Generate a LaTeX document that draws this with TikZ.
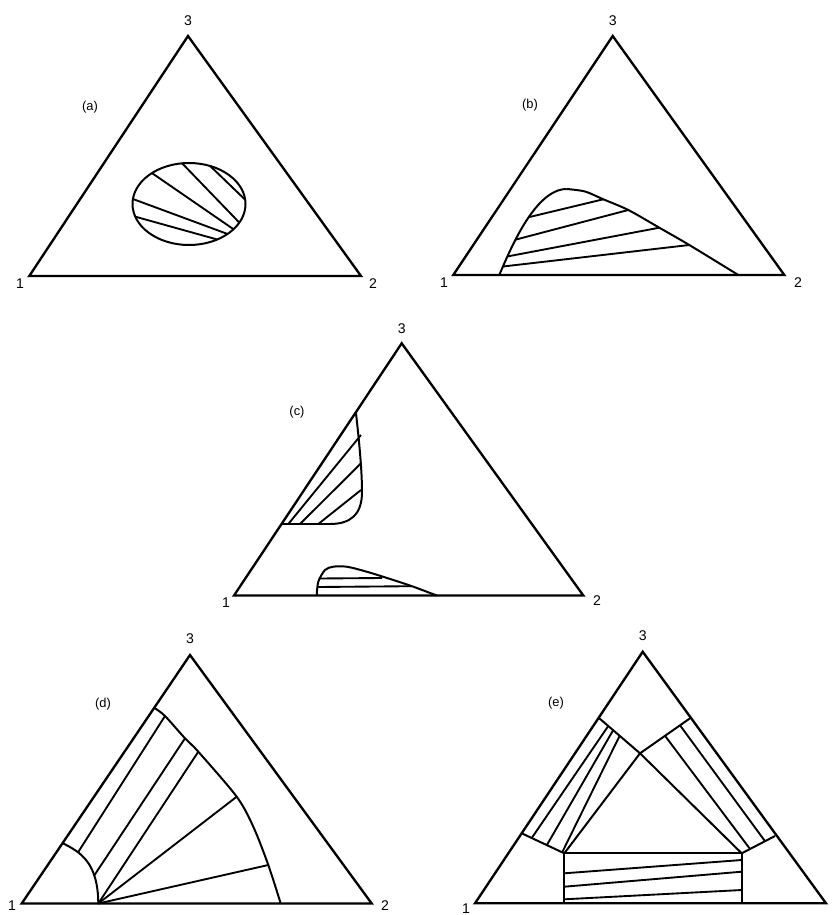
\documentclass[tikz,border=0pt]{standalone}
\usepackage{fontspec}
\setmainfont{Liberation Sans}
\usetikzlibrary{calc}

\begin{document}
\begin{tikzpicture}[
    x=0.3mm, y=-0.3mm,
    frame/.style = {line width=2pt},
    bound/.style = {line width=1.7pt},
    tie/.style   = {line width=1.6pt},
    vlbl/.style  = {font=\fontsize{12}{14}\selectfont, inner sep=0pt},
    plbl/.style  = {font=\fontsize{11}{13}\selectfont, inner sep=0pt}
  ]
  \fill[white] (0,0) rectangle (833,915);
  \useasboundingbox (0,0) rectangle (833,915);

  %% (a) closed gap in the middle
  \coordinate (a1) at (29.3,276);
  \coordinate (a2) at (361,276);
  \coordinate (a3) at (188,36);
  \coordinate (ca) at (189,204);
  \draw[frame] (a1) -- (a2) -- (a3) -- cycle;
  \node[vlbl] (a1l) at (20,284)  {1};
  \node[vlbl] (a2l) at (373,284) {2};
  \node[vlbl] (a3l) at (188,21)  {3};
  \node[plbl] (alab) at (90,107) {(a)};
  \draw[bound] (ca) ellipse [x radius=56.5, y radius=41];
  \foreach \p/\q in {-68/-6, -97/27, -131/38, -173/47, -198/60}
    \draw[tie] ($(ca)+(\p:56.5 and 41)$) -- ($(ca)+(\q:56.5 and 41)$);

  %% (b) gap touching side 1-2
  \coordinate (b1) at (453.3,275);
  \coordinate (b2) at (784.3,275);
  \coordinate (b3) at (612.7,36);
  \draw[frame] (b1) -- (b2) -- (b3) -- cycle;
  \node[vlbl] (b1l) at (444,283) {1};
  \node[vlbl] (b2l) at (798,283) {2};
  \node[vlbl] (b3l) at (612.7,21) {3};
  \node[plbl] (blab) at (530,105) {(b)};
  \coordinate (br1) at (689.3,245);
  \coordinate (br2) at (659.3,227.7);
  \coordinate (br3) at (628.3,210);
  \coordinate (br4) at (603.3,199.3);
  \draw[bound] (499.3,275) .. controls (510,250) and (535,189) ..
    coordinate[pos=0.1] (bl1) coordinate[pos=0.2] (bl2)
    coordinate[pos=0.35] (bl3) coordinate[pos=0.55] (bl4) (566.7,189);
  \draw[bound] plot[smooth] coordinates {(566.7,189) (585,191.5)
    (br4) (br3) (br2) (br1) (738.3,275)};
  \foreach \i in {1,...,4}
    \draw[tie] (bl\i) -- (br\i);

  %% (c) two separate gaps
  \coordinate (c1) at (234,595.5);
  \coordinate (c2) at (583.3,595.5);
  \coordinate (c3) at (401.7,343.3);
  \draw[frame] (c1) -- (c2) -- (c3) -- cycle;
  \node[vlbl] (c1l) at (226,603) {1};
  \node[vlbl] (c2l) at (597,601) {2};
  \node[vlbl] (c3l) at (401.7,329) {3};
  \node[plbl] (clab) at (297,411.7) {(c)};
  % upper gap on side 1-3
  \draw[bound] (356,413.3) .. controls (359,440) and (362,470) .. (362,492)
    .. controls (362,515) and (350,524) .. (330,524) -- (281.5,524);
  \foreach \p/\q in {288.3/435, 300/463.3, 318.3/490}
    \draw[tie] (\p,524) -- (361,\q);
  % lower gap on side 1-2
  \draw[bound] plot[smooth] coordinates {(316.7,595.5) (318.3,581.7) (325,570)
    (333.3,566.7) (346.7,566.7) (366.7,571.7) (393.3,580) (413.3,586.7) (436.7,595.5)};
  \draw[tie] (318.5,578.5) -- (382,578);
  \draw[tie] (318,587) -- (411,586.2);

  %% (d) fan of tie lines from one point
  \coordinate (d1) at (21.7,903.5);
  \coordinate (d2) at (371.7,903.5);
  \coordinate (d3) at (190,655);
  \draw[frame] (d1) -- (d2) -- (d3) -- cycle;
  \node[vlbl] (d1l) at (12,906)  {1};
  \node[vlbl] (d2l) at (385,906) {2};
  \node[vlbl] (d3l) at (190,638.3) {3};
  \node[plbl] (dlab) at (103,704) {(d)};
  \coordinate (df) at (98.3,903.5);
  \coordinate (du1) at (165,716);
  \coordinate (du2) at (185,738.3);
  \coordinate (du3) at (198.3,751.7);
  \coordinate (du4) at (236.7,796.7);
  \coordinate (du5) at (268.3,865);
  \draw[bound] plot[smooth] coordinates {(155,708.3) (du1) (du2) (du3) (du4)
    (253.3,826.7) (du5) (280.7,903.5)};
  \draw[bound] (63,843.3) .. controls (80,852) and (98,862) ..
    coordinate[pos=0.3] (ds1) coordinate[pos=0.72] (ds2) (98.3,903.5);
  \draw[tie] (ds1) -- (du1);
  \draw[tie] (ds2) -- (du2);
  \foreach \i in {3,4,5}
    \draw[tie] (df) -- (du\i);

  %% (e) three two-phase bands and a three-phase triangle
  \coordinate (e1) at (475,903.3);
  \coordinate (e2) at (826,903.3);
  \coordinate (e3) at (642.7,651.7);
  \draw[frame] (e1) -- (e2) -- (e3) -- cycle;
  \node[vlbl] (e1l) at (466,909) {1};
  \node[vlbl] (e3l) at (642.7,635.7) {3};
  \node[plbl] (elab) at (556,703) {(e)};
  \coordinate (eL1) at (599.3,718.3);
  \coordinate (eR1) at (690,718.3);
  \coordinate (eC)  at (640,753.3);
  \coordinate (eL2) at (521.7,833.3);
  \coordinate (eP)  at (564.3,853.3);
  \coordinate (eQ)  at (741.7,853.3);
  \coordinate (eR2) at (775,836);
  \draw[bound] (eL1) -- (eC) -- (eR1);
  \draw[bound] (eL2) -- (eP) -- (eC) -- (eQ) -- (eR2);
  \draw[bound] (eP) -- (eQ);
  \draw[bound] (eP) -- (eP |- e1);
  \draw[bound] (eQ) -- (eQ |- e1);
  \foreach \s/\t in {0.22/0.235, 0.34/0.59, 0.5/0.95}
    \draw[tie] ($(eL1)!\s!(eC)$) -- ($(eL2)!\t!(eP)$);
  \foreach \s/\t in {0.5/0.25, 0.8/0.7}
    \draw[tie] ($(eC)!\s!(eR1)$) -- ($(eQ)!\t!(eR2)$);
  \foreach \p/\q in {873.3/860, 886.7/871.7, 899.3/890}
    \draw[tie] (eP |- 0,\p) -- (eQ |- 0,\q);

\end{tikzpicture}
\end{document}
